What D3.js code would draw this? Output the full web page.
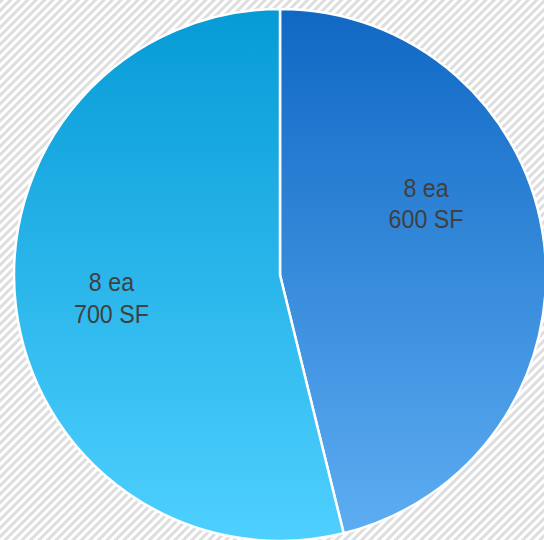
<!DOCTYPE html>
<html>
<head>
<meta charset="utf-8">
<script src="https://cdn.jsdelivr.net/npm/d3@7"></script>
<style>
  html, body { margin: 0; padding: 0; background: #fff; }
  svg { display: block; }
</style>
</head>
<body>
<div id="container"></div>
<script>
/* CONSTANTS AND GLOBALS */
const width = 544,
      height = 540,
      cx = 280, cy = 275, radius = 266;

// DATA
const categories = ["A", "B"];
const counts = ["8 ea", "8 ea"];
const areas = [600, 700];
const units = "SF";

// gradient stops per slice (top -> bottom)
const sliceColors = [
  ["#1068c4", "#5eaef2"],
  ["#069bd6", "#4ed0ff"]
];

// label placement: radius fraction and angle nudge (radians) per slice
const labelPos = [
  { r: 0.61, da: -0.33 },
  { r: 0.64, da: -0.02 }
];

const svg = d3.select("#container")
  .append("svg")
  .attr("width", width)
  .attr("height", height);

const defs = svg.append("defs");

// hatched background
const pat = defs.append("pattern")
  .attr("id", "hatch")
  .attr("width", 6)
  .attr("height", 6)
  .attr("patternUnits", "userSpaceOnUse")
  .attr("patternTransform", "rotate(45)");
pat.append("rect").attr("width", 6).attr("height", 6).attr("fill", "#ffffff");
pat.append("rect").attr("width", 3).attr("height", 6).attr("fill", "#dedede");

svg.append("rect")
  .attr("width", width)
  .attr("height", height)
  .attr("fill", "url(#hatch)");

// gradients live in the pie group's coordinates (centre at 0,0)
sliceColors.forEach((c, i) => {
  const gr = defs.append("linearGradient")
    .attr("id", "grad" + i)
    .attr("gradientUnits", "userSpaceOnUse")
    .attr("x1", 0).attr("y1", -radius)
    .attr("x2", 0).attr("y2", radius);
  gr.append("stop").attr("offset", "0%").attr("stop-color", c[0]);
  gr.append("stop").attr("offset", "100%").attr("stop-color", c[1]);
});

const pie = d3.pie().sort(null).value(d => d);
const arcs = pie(areas);

const arcGen = d3.arc().innerRadius(0).outerRadius(radius);

const g = svg.append("g").attr("transform", `translate(${cx},${cy})`);

g.selectAll("path")
  .data(arcs)
  .join("path")
  .attr("d", arcGen)
  .attr("fill", (d, i) => `url(#grad${i})`)
  .attr("stroke", "#ffffff")
  .attr("stroke-width", 2.5)
  .attr("stroke-linejoin", "round");

// labels: slightly condensed text like the original
const labels = g.selectAll("text")
  .data(arcs)
  .join("text")
  .attr("transform", (d, i) => {
    const a = (d.startAngle + d.endAngle) / 2 + labelPos[i].da;
    const r = radius * labelPos[i].r;
    return `translate(${r * Math.sin(a)},${-r * Math.cos(a)}) scale(0.93,1)`;
  })
  .attr("text-anchor", "middle")
  .attr("font-family", "'Liberation Sans', Arial, sans-serif")
  .attr("font-size", "25px")
  .attr("fill", "#404040");

labels.append("tspan")
  .attr("x", 0)
  .attr("dy", "-0.3em")
  .text((d, i) => counts[i]);
labels.append("tspan")
  .attr("x", 0)
  .attr("dy", "1.25em")
  .text(d => `${d.data} ${units}`);
</script>
</body>
</html>
